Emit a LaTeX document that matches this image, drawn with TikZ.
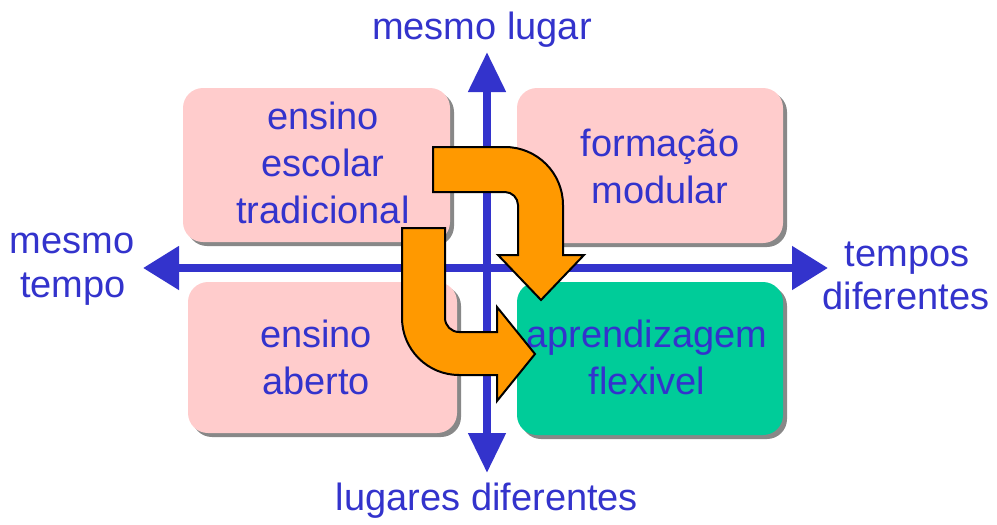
\documentclass[tikz,border=0pt]{standalone}
\usepackage{fontspec}
\setmainfont{Liberation Sans}
\usetikzlibrary{arrows.meta,shadows}
\definecolor{txtblue}{RGB}{51,51,204}
\definecolor{boxpink}{RGB}{255,204,204}
\definecolor{boxgreen}{RGB}{0,204,153}
\definecolor{arrorange}{RGB}{255,153,0}
\definecolor{shadowgray}{RGB}{136,136,136}
\begin{document}
\begin{tikzpicture}[x=1pt,y=-1pt,
  qbox/.style={rectangle, rounded corners=20pt, minimum width=#1, inner sep=0pt, outer sep=0pt,
    general shadow={fill=shadowgray, shadow xshift=4pt, shadow yshift=-4pt}},
  lbl/.style={text=txtblue, font=\fontsize{38}{47}\selectfont, align=center, inner sep=0pt},
  axis/.style={draw=txtblue, line width=8pt},
  harr/.tip={Triangle[length=36pt, width=42pt]},
  varr/.tip={Triangle[length=40pt, width=36pt]},
  curvearrow/.style={fill=arrorange, draw=black, line width=2pt, line join=miter}]
\useasboundingbox (0,0) rectangle (997,525);
% quadrant boxes
\node[qbox=267pt, minimum height=154pt, fill=boxpink] (tl) at (316.5,165) {};
\node[qbox=266pt, minimum height=155pt, fill=boxpink] (tr) at (650,165.5) {};
\node[qbox=269pt, minimum height=151pt, fill=boxpink] (bl) at (322.5,357.5) {};
\node[qbox=266pt, minimum height=153pt, fill=boxgreen] (br) at (650,358.5) {};
% box texts
\node[lbl] (tltext) at (323,163) {ensino\\escolar\\tradicional};
\node[lbl] (trtext) at (660,166) {formação\\modular};
\node[lbl] (bltext) at (316,357) {ensino\\aberto};
\node[lbl] (brtext) at (647,357) {aprendizagem\\flexivel};
% axes
\coordinate (axL) at (143,268);
\coordinate (axR) at (828,268);
\coordinate (axT) at (487,52);
\coordinate (axB) at (487,473);
\draw[axis, harr-harr] (axL) -- (axR);
\draw[axis, varr-varr] (axT) -- (axB);
% axis labels
\node[lbl, anchor=base] (top) at (482,39) {mesmo lugar};
\node[lbl, anchor=base] (bottom) at (487,510) {lugares diferentes};
\node[lbl, anchor=base] (left1) at (72,253) {mesmo};
\node[lbl, anchor=base] (left2) at (73,297) {tempo};
\node[lbl, anchor=base] (right1) at (907,266) {tempos};
\node[lbl, anchor=base] (right2) at (906,309) {diferentes};
% orange curved arrows
\draw[curvearrow] (433,147) -- (505,147) .. controls (537,147) and (563,173) .. (563,205)
  -- (563,255) -- (584,255) -- (541,300) -- (498,255) -- (518,255) -- (518,205)
  .. controls (518,198) and (512,192) .. (505,192) -- (433,192) -- cycle;
\draw[curvearrow] (402,228) -- (445,228) -- (445,318) .. controls (445,325.7) and (451.3,332) .. (459,332)
  -- (497,332) -- (497,307) -- (535,354) -- (497,401) -- (497,375) -- (459,375)
  .. controls (427.5,375) and (402,349.5) .. (402,318) -- cycle;
\end{tikzpicture}
\end{document}
